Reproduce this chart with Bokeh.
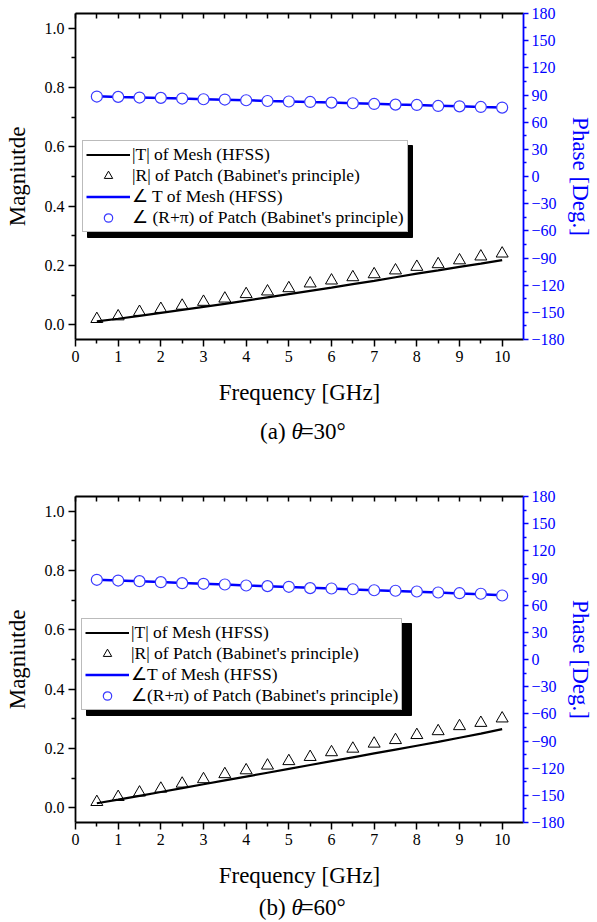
from bokeh.plotting import figure
from bokeh.models import (Range1d, LinearAxis, FixedTicker, PrintfTickFormatter,
                          Legend, LegendItem, Label, BoxAnnotation)
from bokeh.layouts import column
from bokeh.embed import file_html
from bokeh.resources import INLINE

# ---------------- data ----------------
freq = [0.5, 1.0, 1.5, 2.0, 2.5, 3.0, 3.5, 4.0, 4.5, 5.0,
        5.5, 6.0, 6.5, 7.0, 7.5, 8.0, 8.5, 9.0, 9.5, 10.0]

# (a) theta = 30 deg
mag_T_a = [0.011, 0.020, 0.030, 0.040, 0.050, 0.060, 0.070, 0.081, 0.092, 0.103,
           0.114, 0.125, 0.137, 0.148, 0.160, 0.172, 0.183, 0.195, 0.206, 0.218]
mag_R_a = [0.019, 0.028, 0.043, 0.053, 0.064, 0.077, 0.088, 0.103, 0.112, 0.123,
           0.139, 0.149, 0.160, 0.170, 0.183, 0.195, 0.204, 0.217, 0.230, 0.240]
phase_T_a = [88.5, 87.8, 87.2, 86.6, 86.0, 85.4, 84.8, 84.2, 83.5, 82.9,
             82.2, 81.6, 80.9, 80.2, 79.5, 78.9, 78.2, 77.5, 76.8, 76.2]
phase_R_a = [88.3, 87.9, 87.2, 86.8, 86.1, 85.3, 85.0, 84.2, 83.4, 82.8,
             82.3, 81.6, 80.9, 80.1, 79.4, 79.0, 77.9, 77.5, 76.8, 76.1]

# (b) theta = 60 deg
mag_T_b = [0.015, 0.027, 0.040, 0.053, 0.066, 0.079, 0.092, 0.105, 0.118, 0.131,
           0.144, 0.157, 0.170, 0.183, 0.196, 0.209, 0.222, 0.236, 0.250, 0.265]
mag_R_b = [0.019, 0.036, 0.051, 0.064, 0.081, 0.096, 0.113, 0.126, 0.142, 0.157,
           0.171, 0.187, 0.199, 0.216, 0.228, 0.245, 0.258, 0.275, 0.286, 0.301]
phase_T_b = [88.1, 87.3, 86.4, 85.5, 84.5, 83.6, 82.7, 81.8, 81.0, 80.1,
             79.2, 78.3, 77.4, 76.5, 75.7, 74.8, 73.9, 73.0, 72.1, 71.0]
phase_R_b = [88.0, 87.2, 86.5, 85.4, 84.3, 83.6, 82.8, 81.7, 81.0, 80.3,
             78.8, 78.4, 77.6, 76.5, 75.9, 75.1, 74.0, 73.2, 72.6, 70.7]

x_ticks = [0, 1, 2, 3, 4, 5, 6, 7, 8, 9, 10]
mag_ticks = [0.0, 0.2, 0.4, 0.6, 0.8, 1.0]
phase_ticks = [-180, -150, -120, -90, -60, -30, 0, 30, 60, 90, 120, 150, 180]

labels_a = ["|T| of Mesh (HFSS)", "|R| of Patch (Babinet's principle)",
            "\u2220 T of Mesh (HFSS)", "\u2220 (R+\u03c0) of Patch (Babinet's principle)"]
labels_b = ["|T| of Mesh (HFSS)", "|R| of Patch (Babinet's principle)",
            "\u2220T of Mesh (HFSS)", "\u2220(R+\u03c0) of Patch (Babinet's principle)"]

FONT = "Liberation Serif"
BLUE = "#0000ff"

# legend geometry (px)
LEG_PAD = 3
LEG_GLYPH_W = 44
LEG_GLYPH_H = 21
LEG_SPACING = 0
LEG_STANDOFF = 2
LEG_FONT = "17.5px"


def mids(t):
    return [(a + b) / 2 for a, b in zip(t[:-1], t[1:])]


def style_axis(ax, color="black"):
    ax.axis_line_color = color
    ax.axis_line_width = 1.8
    ax.major_tick_line_color = color
    ax.minor_tick_line_color = color
    ax.major_tick_line_width = 1.5
    ax.minor_tick_line_width = 1.5
    ax.major_label_text_color = color
    ax.major_label_text_font = FONT
    ax.major_label_text_font_size = "16px"
    ax.axis_label_text_font = FONT
    ax.axis_label_text_font_style = "normal"
    ax.axis_label_text_font_size = "23px"
    ax.axis_label_text_color = color


def make_legend(items, x, y):
    return Legend(items=[LegendItem(label=l, renderers=[r]) for l, r in items],
                  location=(x, y), orientation="vertical",
                  label_text_font=FONT, label_text_font_size=LEG_FONT,
                  label_text_color="black",
                  glyph_width=LEG_GLYPH_W, glyph_height=LEG_GLYPH_H,
                  label_height=LEG_GLYPH_H, label_standoff=LEG_STANDOFF,
                  spacing=LEG_SPACING, padding=LEG_PAD, margin=0,
                  background_fill_color="white", background_fill_alpha=1.0,
                  border_line_color="#777777", border_line_width=1)


def make_panel(mag_T, mag_R, ph_T, ph_R, labels, height, top_b, bot_b,
               leg_x, leg_y, leg_w, leg_h):
    p = figure(width=597, height=height, x_range=Range1d(0, 10.5),
               y_range=Range1d(-0.05, 1.05), output_backend="svg",
               toolbar_location=None, tools="",
               min_border_left=75, min_border_right=74,
               min_border_top=top_b, min_border_bottom=bot_b)
    p.extra_y_ranges = {"phase": Range1d(-180, 180)}
    p.grid.visible = False
    p.outline_line_color = None
    p.background_fill_color = "white"
    p.border_fill_color = "white"

    # bottom axis
    xa = p.xaxis[0]
    xa.ticker = FixedTicker(ticks=x_ticks, minor_ticks=mids(x_ticks))
    style_axis(xa)
    xa.axis_label = "Frequency [GHz]"
    xa.major_tick_out = 7
    xa.major_tick_in = 0
    xa.minor_tick_out = 4
    xa.minor_tick_in = 0
    xa.major_label_standoff = 4
    xa.axis_label_standoff = 15

    # left axis
    ya = p.yaxis[0]
    ya.ticker = FixedTicker(ticks=mag_ticks, minor_ticks=mids(mag_ticks))
    ya.formatter = PrintfTickFormatter(format="%.1f")
    style_axis(ya)
    ya.axis_label = "Magniutde"
    ya.major_tick_out = 7
    ya.major_tick_in = 0
    ya.minor_tick_out = 4
    ya.minor_tick_in = 0
    ya.major_label_standoff = 4
    ya.axis_label_standoff = 12

    # right (phase) axis
    ra = LinearAxis(y_range_name="phase",
                    ticker=FixedTicker(ticks=phase_ticks, minor_ticks=mids(phase_ticks)),
                    axis_label="Phase [Deg.]")
    style_axis(ra, BLUE)
    ra.major_tick_out = 5
    ra.major_tick_in = 0
    ra.minor_tick_out = 3
    ra.minor_tick_in = 0
    ra.major_label_standoff = 3
    ra.axis_label_standoff = 0
    p.add_layout(ra, "right")

    # top axis: inward ticks only, no labels
    ta = LinearAxis(ticker=FixedTicker(ticks=[], minor_ticks=sorted(x_ticks + mids(x_ticks))))
    style_axis(ta)
    ta.major_label_standoff = 0
    ta.major_tick_in = 0
    ta.major_tick_out = 0
    ta.minor_tick_in = 5
    ta.minor_tick_out = 0
    p.add_layout(ta, "above")

    # data
    r_pT = p.line(freq, ph_T, y_range_name="phase", line_color=BLUE, line_width=2.5)
    r_pR = p.scatter(freq, ph_R, y_range_name="phase", marker="circle", size=11,
                     line_color="#3a3aff", fill_color="white", line_width=1.2)
    r_T = p.line(freq, mag_T, line_color="black", line_width=2.2)
    r_R = p.scatter(freq, mag_R, marker="triangle", size=12, line_color="black",
                    fill_color=None, line_width=1)

    # legend with drop shadow
    p.add_layout(BoxAnnotation(left=leg_x + 5, right=leg_x + 5 + leg_w,
                               bottom=leg_y - 5, top=leg_y - 5 + leg_h,
                               left_units="screen", right_units="screen",
                               top_units="screen", bottom_units="screen",
                               fill_color="black", fill_alpha=1.0,
                               line_color="black", line_alpha=1.0))
    items = list(zip(labels, [r_T, r_R, r_pT, r_pR]))
    p.add_layout(make_legend(items, leg_x, leg_y), "center")
    return p


def make_caption(tag, angle, height, y_center):
    c = figure(width=597, height=height, x_range=Range1d(0, 597),
               y_range=Range1d(0, height), output_backend="svg",
               toolbar_location=None, tools="", min_border=0,
               x_axis_location=None, y_axis_location=None)
    c.grid.visible = False
    c.outline_line_color = None
    c.background_fill_color = "white"
    c.border_fill_color = "white"
    for txt, x0, style, align in [(tag, 280, "normal", "right"),
                                  ("\u03b8", 288, "italic", "left"),
                                  ("=" + angle, 300, "normal", "left")]:
        c.add_layout(Label(x=x0, y=height - y_center, text=txt, text_font=FONT,
                           text_font_size="23px", text_font_style=style,
                           text_baseline="middle", text_align=align,
                           text_color="black"))
    return c


LEG_H = 2 * LEG_PAD + 4 * LEG_GLYPH_H + 3 * LEG_SPACING + 2
LEG_W = 325

p1 = make_panel(mag_T_a, mag_R_a, phase_T_a, phase_R_a, labels_a,
                412, 13, 73, 7, 107, LEG_W, LEG_H)
c1 = make_caption("(a)", "30\u00b0", 49, 19)
p2 = make_panel(mag_T_b, mag_R_b, phase_T_b, phase_R_b, labels_b,
                433, 35, 72, 6, 112, LEG_W, LEG_H)
c2 = make_caption("(b)", "60\u00b0", 28, 13)

layout = column(p1, c1, p2, c2, spacing=0)
open("out.html", "w").write(file_html(layout, INLINE))
